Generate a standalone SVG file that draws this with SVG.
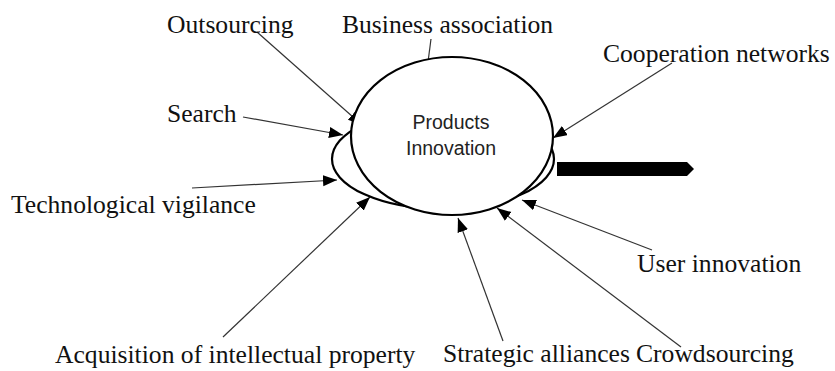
<svg xmlns="http://www.w3.org/2000/svg" width="835" height="371" viewBox="0 0 835 371">
  <style>
    .lbl { font-family: "Liberation Serif", "Times New Roman", serif; font-size: 25.6px; fill: #111; }
    .core { font-family: "Liberation Sans", Arial, sans-serif; font-size: 19.5px; fill: #222; text-anchor: middle; }
    .link { stroke: #333; stroke-width: 1.2; fill: none; }
    .arrow { marker-end: url(#head); }
    .shape { fill: #fff; stroke: #000; stroke-width: 2.2; }
  </style>
  <defs>
    <marker id="head" markerUnits="userSpaceOnUse" markerWidth="15" markerHeight="12" refX="14" refY="5.5" orient="auto">
      <path d="M0,0 L14,5.5 L0,11 Z" fill="#000"/>
    </marker>
  </defs>
  <rect width="835" height="371" fill="#fff"/>

  <!-- connectors from each source label to the innovation core -->
  <g id="connectors">
    <line class="link arrow" x1="257" y1="32" x2="362" y2="125"/>
    <line class="link" x1="431" y1="39" x2="428" y2="62"/>
    <line class="link arrow" x1="672" y1="63" x2="553" y2="138"/>
    <line class="link arrow" x1="243" y1="117" x2="343" y2="135"/>
    <line class="link arrow" x1="192" y1="188" x2="337" y2="180"/>
    <line class="link arrow" x1="223" y1="337" x2="370" y2="197"/>
    <line class="link arrow" x1="503" y1="341" x2="458" y2="218"/>
    <line class="link arrow" x1="681" y1="347" x2="497" y2="208"/>
    <line class="link arrow" x1="652" y1="250" x2="522" y2="200"/>
  </g>

  <!-- core: back layer and front ellipse -->
  <g id="core-back">
    <ellipse class="shape" cx="443" cy="159" rx="111" ry="50"/>
  </g>
  <g id="core">
    <ellipse class="shape" cx="452" cy="136" rx="101" ry="79"/>
    <text class="core" x="451" y="129">Products</text>
    <text class="core" x="451" y="155">Innovation</text>
  </g>

  <!-- output arrow -->
  <g id="output">
    <polygon points="557,162 687,162 694,169 687,176 557,176" fill="#000"/>
  </g>

  <g id="outsourcing"><text class="lbl" x="167" y="33">Outsourcing</text></g>
  <g id="business-association"><text class="lbl" x="342" y="33">Business association</text></g>
  <g id="cooperation-networks"><text class="lbl" x="603" y="62">Cooperation networks</text></g>
  <g id="search"><text class="lbl" x="167" y="122">Search</text></g>
  <g id="technological-vigilance"><text class="lbl" x="11" y="213">Technological vigilance</text></g>
  <g id="acquisition"><text class="lbl" x="55" y="363">Acquisition of intellectual property</text></g>
  <g id="strategic-alliances"><text class="lbl" x="443" y="362">Strategic alliances</text></g>
  <g id="crowdsourcing"><text class="lbl" x="636" y="362">Crowdsourcing</text></g>
  <g id="user-innovation"><text class="lbl" x="637" y="272">User innovation</text></g>
</svg>
